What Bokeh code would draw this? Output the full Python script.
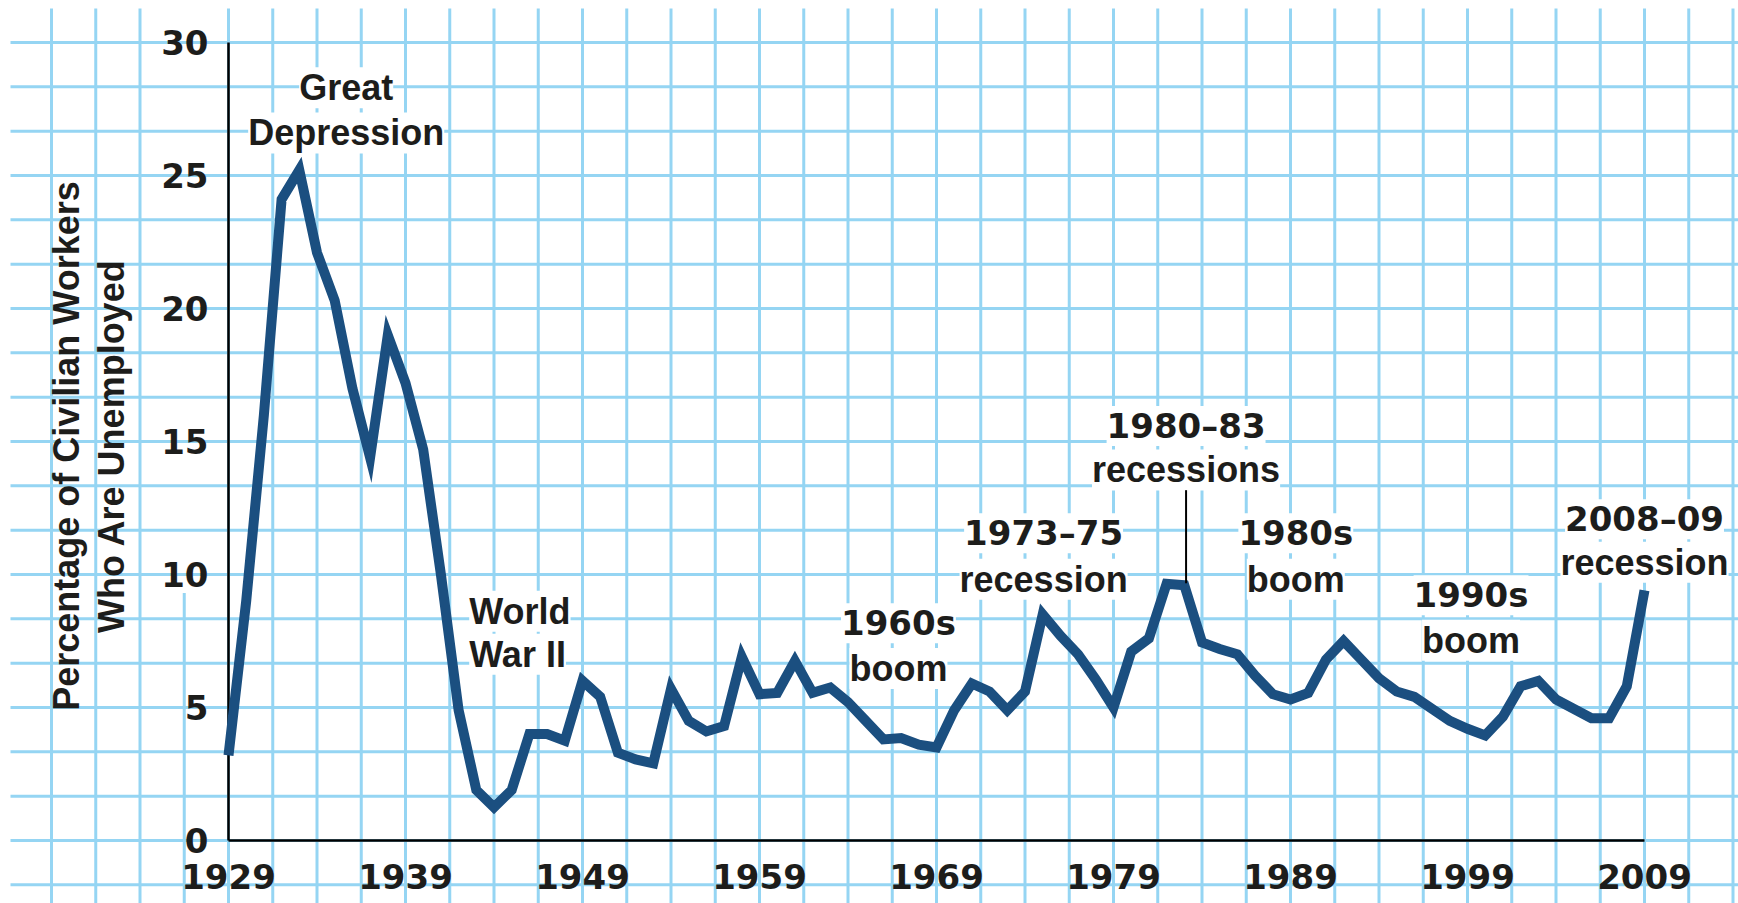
import math
from bokeh.plotting import figure
from bokeh.models import Range1d
from bokeh.core.properties import value
from bokeh.embed import file_html
from bokeh.resources import INLINE

# ---------------- data ----------------
years = list(range(1929, 2005)) + [2006, 2007, 2008, 2009]
rates = [
    3.2, 9.0, 16.0, 24.1, 25.2, 22.1, 20.3, 17.0, 14.4, 19.0,   # 1929-1938
    17.2, 14.7, 10.0, 4.9, 1.9, 1.25, 1.9, 4.0, 4.0, 3.75,      # 1939-1948
    6.0, 5.4, 3.3, 3.05, 2.9, 5.7, 4.5, 4.1, 4.3, 6.9,          # 1949-1958
    5.5, 5.55, 6.75, 5.55, 5.75, 5.2, 4.5, 3.8, 3.85, 3.6,      # 1959-1968
    3.5, 4.9, 5.9, 5.6, 4.9, 5.6, 8.5, 7.7, 7.0, 6.05,          # 1969-1978
    5.0, 7.1, 7.6, 9.65, 9.6, 7.45, 7.2, 7.0, 6.2, 5.5,         # 1979-1988
    5.3, 5.55, 6.8, 7.5, 6.8, 6.1, 5.6, 5.4, 4.95, 4.5,         # 1989-1998
    4.2, 3.95, 4.65, 5.8, 6.0, 5.3,                             # 1999-2004
    4.6, 4.6, 5.8, 9.4,                                         # 2006-2009
]
x_tick_years = [1929, 1939, 1949, 1959, 1969, 1979, 1989, 1999, 2009]
y_ticks = [0, 5, 10, 15, 20, 25, 30]
y_title = ["Percentage of Civilian Workers", "Who Are Unemployed"]
notes = [
    ["Great", "Depression"],
    ["World", "War II"],
    ["1960s", "boom"],
    ["1973\u201375", "recession"],
    ["1980\u201383", "recessions"],
    ["1980s", "boom"],
    ["1990s", "boom"],
    ["2008\u201309", "recession"],
]

# ---------------- layout / style ----------------
note_pos = [  # (x, y of first line, y of second line, align)
    (1935.65, 28.3, 26.6, "center"),
    (1942.6, 8.62, 7.0, "left"),
    (1966.85, 8.17, 6.47, "center"),
    (1975.05, 11.55, 9.82, "center"),
    (1983.1, 15.58, 13.93, "center"),
    (1989.3, 11.55, 9.82, "center"),
    (1999.2, 9.22, 7.53, "center"),
    (2009.0, 12.08, 10.46, "center"),
]
LINE = "#1b4f80"
GRID = "#95d5f3"
INK = "#1d1d1b"
WORD_FONT = value("Liberation Sans")
NUM_FONT = value("DejaVu Sans")

W, H = 1738, 903
PX_X = 17.7    # pixels per year
PX_Y = 26.6    # pixels per percentage point
X0 = 1929 - 228 / PX_X
X1 = X0 + W / PX_X
Y1 = 840 / PX_Y
Y0 = Y1 - H / PX_Y

p = figure(width=W, height=H, x_range=Range1d(X0, X1), y_range=Range1d(Y0, Y1),
           output_backend="svg", toolbar_location=None, min_border=0,
           x_axis_type=None, y_axis_type=None)
p.outline_line_color = None
p.background_fill_color = "white"
p.border_fill_color = "white"

# graph-paper grid
step_x = 2.5
step_y = 5.0 / 3.0
grid_top = Y1 - 8 / PX_Y
grid_left = X0 + 10 / PX_X
vx = [x_tick_years[0] + step_x * k for k in range(-4, 35)]
vx_full = [v for v in vx if abs(v - (x_tick_years[0] - step_x)) > 1e-6]
hy = [y_ticks[0] + step_y * k for k in range(-1, 19)]
p.segment(x0=vx_full, y0=[Y0] * len(vx_full), x1=vx_full, y1=[grid_top] * len(vx_full),
          line_color=GRID, line_width=3, level="underlay")
p.segment(x0=[grid_left] * len(hy), y0=hy, x1=[X1] * len(hy), y1=hy,
          line_color=GRID, line_width=3, level="underlay")
# partial grid line beside the y tick labels
p.segment(x0=[x_tick_years[0] - step_x], y0=[Y0], x1=[x_tick_years[0] - step_x], y1=[9.3],
          line_color=GRID, line_width=3, level="underlay")

# axes
p.segment(x0=[x_tick_years[0], x_tick_years[0]], y0=[y_ticks[0], y_ticks[0]],
          x1=[x_tick_years[-1], x_tick_years[0]], y1=[y_ticks[0], y_ticks[-1]],
          line_color="black", line_width=2.5)

# data line
p.line(years, rates, line_color=LINE, line_width=10, line_join="miter")

# tick labels
p.text(x=[x_tick_years[0]] * len(y_ticks), y=y_ticks, text=[str(v) for v in y_ticks],
       x_offset=-20, text_align="right", text_baseline="middle",
       text_font=NUM_FONT, text_font_style="bold", text_font_size="34px", text_color=INK)
p.text(x=x_tick_years, y=[y_ticks[0]] * len(x_tick_years), text=[str(v) for v in x_tick_years],
       y_offset=36, text_align="center", text_baseline="middle",
       text_font=NUM_FONT, text_font_style="bold", text_font_size="34px", text_color=INK)

# y-axis title (two rotated lines)
p.text(x=[1919.85, 1922.4], y=[14.83, 14.83], text=y_title, angle=math.pi / 2,
       text_align="center", text_baseline="middle",
       text_font=WORD_FONT, text_font_style="bold", text_font_size="36px", text_color=INK)

# annotations
for lines, (nx, ya, yb, al) in zip(notes, note_pos):
    for txt, ty in zip(lines, (ya, yb)):
        numeric = txt[0].isdigit()
        p.text(x=[nx], y=[ty], text=[txt], text_align=al, text_baseline="middle",
               text_font=NUM_FONT if numeric else WORD_FONT, text_font_style="bold",
               text_font_size="34px" if numeric else "36px", text_color=INK,
               background_fill_color="white")

# leader line for the 1980-83 recessions
p.segment(x0=[1983.1], y0=[13.17], x1=[1983.1], y1=[9.67], line_color="black", line_width=2)

open("out.html", "w").write(file_html(p, INLINE))
